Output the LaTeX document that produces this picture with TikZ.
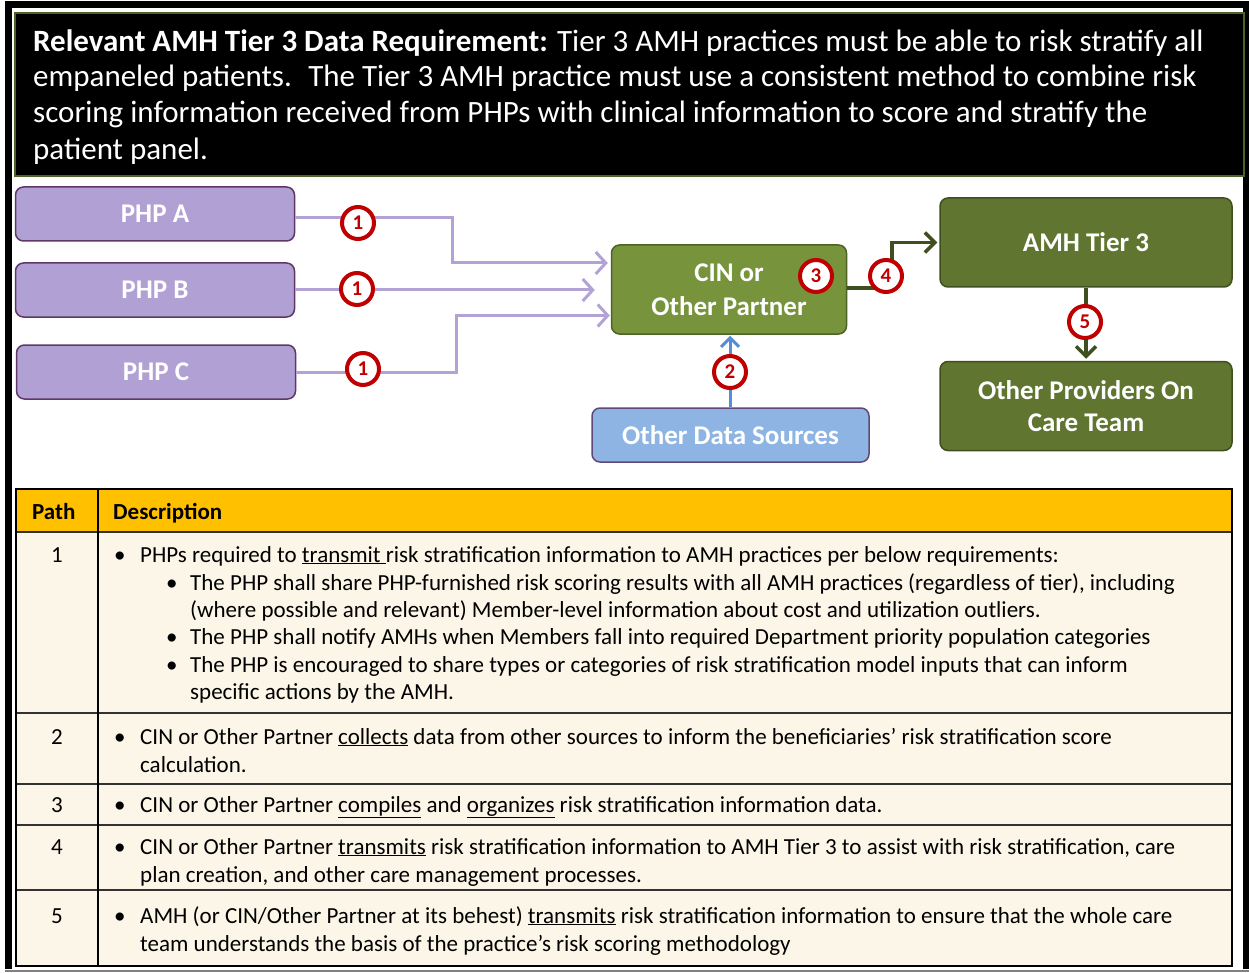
\documentclass[tikz,border=0pt]{standalone}
\usepackage{fontspec}
\setmainfont{Carlito}
\usetikzlibrary{arrows.meta}

\definecolor{hdrborder}{RGB}{79,98,40}
\definecolor{phpfill}{RGB}{177,160,212}
\definecolor{phpedge}{RGB}{96,56,104}
\definecolor{phpline}{RGB}{179,162,214}
\definecolor{cinfill}{RGB}{119,147,60}
\definecolor{cinedge}{RGB}{79,98,40}
\definecolor{amhfill}{RGB}{95,117,48}
\definecolor{amhedge}{RGB}{63,80,30}
\definecolor{odsfill}{RGB}{141,180,226}
\definecolor{odsedge}{RGB}{96,73,122}
\definecolor{blueline}{RGB}{85,142,213}
\definecolor{greenline}{RGB}{63,80,30}
\definecolor{markred}{RGB}{192,0,0}
\definecolor{tblhead}{RGB}{255,192,0}
\definecolor{tblbody}{RGB}{252,246,232}
\definecolor{tblrule}{RGB}{50,50,50}

\begin{document}
\begin{tikzpicture}[x=1pt,y=-1pt,
  hdrtext/.style={text=white, inner sep=0pt, anchor=base west, font=\fontsize{31}{36}\selectfont},
  box/.style={rounded corners=8pt, line width=1.5pt, inner sep=0pt, text=white, align=center,
              font=\fontsize{27}{34}\selectfont\bfseries},
  phpbox/.style={box, draw=phpedge, fill=phpfill, minimum width=279pt, minimum height=54pt},
  cinbox/.style={box, draw=cinedge, fill=cinfill, minimum width=235pt, minimum height=89pt},
  amhbox/.style={box, draw=amhedge, fill=amhfill, minimum width=292pt, minimum height=89pt},
  odsbox/.style={box, draw=odsedge, fill=odsfill, minimum width=277pt, minimum height=54pt},
  phparrow/.style={draw=phpline, line width=3pt, -{Straight Barb[length=10pt,width=22pt,line width=3pt]}},
  bluearrow/.style={draw=blueline, line width=3pt, -{Straight Barb[length=9pt,width=18pt,line width=3pt]}},
  greenarrow/.style={draw=greenline, line width=3.5pt, -{Straight Barb[length=10pt,width=20pt,line width=3.5pt]}},
  marker/.style={circle, draw=markred, fill=white, line width=4pt, minimum size=32pt, inner sep=0pt,
                 text=markred, font=\fontsize{21}{21}\selectfont\bfseries},
  celltext/.style={inner sep=0pt, anchor=base west, font=\fontsize{23}{27}\selectfont},
  cellnum/.style={inner sep=0pt, anchor=base, font=\fontsize{23}{27}\selectfont},
  cellhead/.style={inner sep=0pt, anchor=base west, font=\fontsize{23}{27}\selectfont\bfseries}
]
\useasboundingbox (0,0) rectangle (1249,973);
\fill[white] (0,0) rectangle (1249,973);

% outer frame
\draw[black, line width=7pt] (8.5,969) -- (8.5,4.5) -- (1246,4.5) -- (1246,969);
\draw[gray, line width=1.5pt] (5,971) -- (1249,971);

% requirement banner
\node[draw=hdrborder, fill=black, line width=2pt, minimum width=1229pt, minimum height=163pt,
      inner sep=0pt, anchor=north west] (hdr) at (14,12) {};
\node[hdrtext] (h1) at (33,52) {\textbf{Relevant AMH Tier 3 Data Requirement:} Tier 3 AMH practices must be able to risk stratify all};
\node[hdrtext] (h2) at (33,87) {empaneled patients.~ The Tier 3 AMH practice must use a consistent method to combine risk};
\node[hdrtext] (h3) at (33,123) {scoring information received from PHPs with clinical information to score and stratify the};
\node[hdrtext] (h4) at (33,160) {patient panel.};

% flow boxes
\node[phpbox] (phpa) at (155,214) {PHP A};
\node[phpbox] (phpb) at (155,290) {PHP B};
\node[phpbox] (phpc) at (156,372) {PHP C};
\node[cinbox] (cin) at (729,289.5) {CIN or\\Other Partner};
\node[odsbox] (ods) at (730.5,435) {Other Data Sources};
\node[amhbox] (amh) at (1086,242.5) {AMH Tier 3};
\node[amhbox, font=\fontsize{27}{32}\selectfont\bfseries] (oth) at (1086,406) {Other Providers On\\Care Team};

% connectors
\draw[phparrow] ([yshift=-4pt]phpa.east) -| (452,240) |- ([xshift=-3pt,yshift=26.5pt]cin.west);
\draw[phparrow] (phpb.east) -- ([xshift=-16pt,yshift=-0.5pt]cin.west);
\draw[phparrow] (phpc.east) -| (456,340) |- ([xshift=-1pt,yshift=-26pt]cin.west);
\draw[bluearrow] (ods.north -| 730,0) -- ([yshift=-1pt]cin.south -| 730,0);
\draw[greenarrow] ([yshift=1.5pt]cin.east) -| (892,260) |- ([xshift=-2pt]amh.west);
\draw[greenarrow] (amh.south) -- ([yshift=2pt]oth.north);

% path markers
\node[marker] (m1a) at (358,223) {1};
\node[marker] (m1b) at (357,289) {1};
\node[marker] (m1c) at (363,369) {1};
\node[marker] (m2) at (730,372) {2};
\node[marker] (m3) at (816,276) {3};
\node[marker] (m4) at (886,276) {4};
\node[marker] (m5) at (1085,322) {5};

% path table
\fill[tblhead] (16,489) rectangle (1232,532);
\fill[tblbody] (16,532) rectangle (1232,966);
\draw[tblrule, line width=2pt] (16,532) -- (1232,532);
\draw[tblrule, line width=2pt] (16,713) -- (1232,713);
\draw[tblrule, line width=2pt] (16,784) -- (1232,784);
\draw[tblrule, line width=2pt] (16,825) -- (1232,825);
\draw[tblrule, line width=2pt] (16,890) -- (1232,890);
\draw[black, line width=1.5pt] (98,489) -- (98,966);
\draw[black, line width=2pt] (16,489) rectangle (1232,966);

\node[cellhead] (thpath) at (32,519) {Path};
\node[cellhead] (thdesc) at (113,519) {Description};

% row 1
\node[cellnum] (n1) at (57,562) {1};
\node[celltext] (r1b) at (114,562) {•};
\node[celltext] (r1t) at (140,562) {PHPs required to \underline{transmit\ }risk stratification information to AMH practices per below requirements:};
\node[celltext] (r1sb1) at (166,590) {•};
\node[celltext] (r1s1) at (190,590) {The PHP shall share PHP-furnished risk scoring results with all AMH practices (regardless of tier), including};
\node[celltext] (r1s1b) at (190,617) {(where possible and relevant) Member-level information about cost and utilization outliers.};
\node[celltext] (r1sb2) at (166,644) {•};
\node[celltext] (r1s2) at (190,644) {The PHP shall notify AMHs when Members fall into required Department priority population categories};
\node[celltext] (r1sb3) at (166,672) {•};
\node[celltext] (r1s3) at (190,672) {The PHP is encouraged to share types or categories of risk stratification model inputs that can inform};
\node[celltext] (r1s3b) at (190,699) {specific actions by the AMH.};

% row 2
\node[cellnum] (n2) at (57,744) {2};
\node[celltext] (r2b) at (114,744) {•};
\node[celltext] (r2t) at (140,744) {CIN or Other Partner \underline{collects} data from other sources to inform the beneficiaries’ risk stratification score};
\node[celltext] (r2u) at (140,772) {calculation.};

% row 3
\node[cellnum] (n3) at (57,812) {3};
\node[celltext] (r3b) at (114,812) {•};
\node[celltext] (r3t) at (140,812) {CIN or Other Partner \underline{compiles} and \underline{organizes} risk stratification information data.};

% row 4
\node[cellnum] (n4) at (57,854) {4};
\node[celltext] (r4b) at (114,854) {•};
\node[celltext] (r4t) at (140,854) {CIN or Other Partner \underline{transmits} risk stratification information to AMH Tier 3 to assist with risk stratification, care};
\node[celltext] (r4u) at (140,882) {plan creation, and other care management processes.};

% row 5
\node[cellnum] (n5) at (57,923) {5};
\node[celltext] (r5b) at (114,923) {•};
\node[celltext] (r5t) at (140,923) {AMH (or CIN/Other Partner at its behest) \underline{transmits} risk stratification information to ensure that the whole care};
\node[celltext] (r5u) at (140,951) {team understands the basis of the practice’s risk scoring methodology};
\end{tikzpicture}
\end{document}
